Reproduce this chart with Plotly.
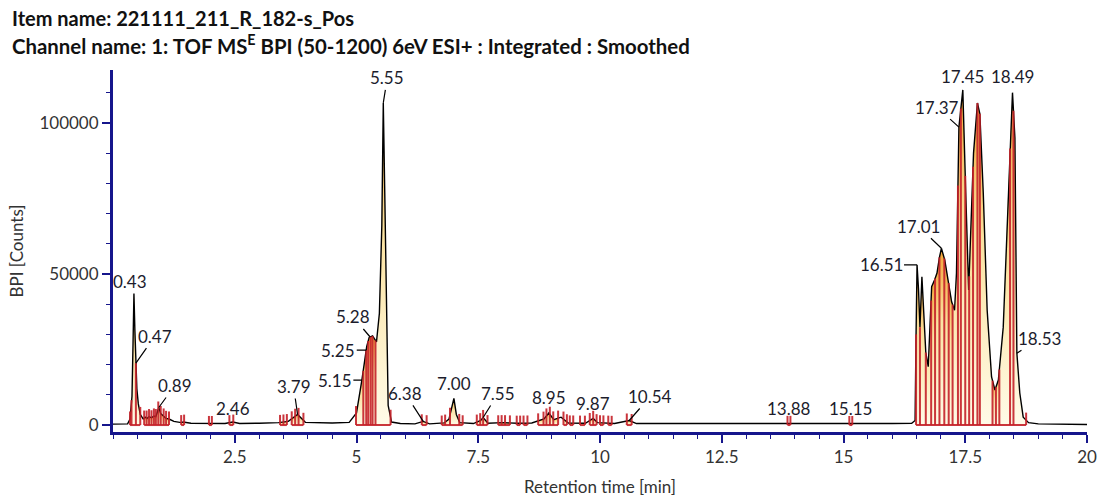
import numpy as np
import plotly.graph_objects as go

# ---------------- data ----------------
rt = [0.00, 0.30, 0.35, 0.37, 0.39, 0.41, 0.43, 0.45, 0.47, 0.49, 0.52, 0.56, 0.62, 0.66, 0.70,
      0.74, 0.79, 0.84, 0.88, 0.94, 0.98, 1.04, 1.09, 1.15, 1.25, 1.40, 1.44, 1.60, 2.00, 2.30,
      2.46, 2.60, 3.00, 3.40, 3.60, 3.79, 3.95, 4.50, 4.85, 5.00, 5.11, 5.16, 5.21, 5.26, 5.33,
      5.41, 5.47, 5.52, 5.55, 5.58, 5.62, 5.65, 5.72, 5.90, 6.20, 6.37, 6.50, 6.80, 6.90, 6.95,
      7.00, 7.05, 7.12, 7.40, 7.55, 7.60, 7.70, 8.00, 8.30, 8.60, 8.85, 8.95, 9.05, 9.20, 9.35,
      9.70, 9.86, 9.95, 10.30, 10.60, 10.75, 11.50, 12.50, 13.50, 13.88, 14.50, 15.15, 16.00,
      16.40, 16.47, 16.49, 16.51, 16.54, 16.57, 16.61, 16.64, 16.69, 16.74, 16.78, 16.81, 16.87,
      16.92, 16.97, 17.01, 17.08, 17.15, 17.22, 17.28, 17.32, 17.37, 17.45, 17.51, 17.57, 17.67,
      17.75, 17.80, 17.87, 17.95, 18.04, 18.11, 18.18, 18.28, 18.38, 18.47, 18.52, 18.56, 18.62,
      18.69, 18.80, 19.00, 20.00]
bpi = [300, 400, 2000, 7000, 9500, 26000, 43500, 31000, 20500, 12000, 7000, 3500, 2000, 2600, 2200,
       2800, 2400, 3000, 2800, 5800, 3800, 3000, 2200, 2000, 1200, 800, 1000, 600, 500, 500,
       1000, 500, 600, 800, 1200, 3500, 900, 700, 900, 4000, 14900, 20000, 26000, 29000, 29500,
       27500, 37000, 66000, 106600, 77000, 32000, 6500, 1000, 500, 400, 1200, 400, 700, 2000, 5000,
       8800, 3500, 800, 500, 1500, 2500, 600, 800, 600, 700, 2000, 4000, 1800, 2600, 700,
       600, 2200, 800, 500, 1500, 500, 500, 450, 450, 550, 450, 500, 500,
       600, 1500, 30000, 53000, 45000, 32400, 49100, 40000, 24000, 19300, 32000, 45800, 48000,
       50300, 55500, 58500, 54600, 48000, 40800, 38000, 50300, 98600, 110900, 76800, 44700, 90000,
       106600, 103000, 76800, 38000, 15900, 11600, 14900, 32400, 76800, 110000, 95000, 23800, 10600,
       2600, 800, 400, 200]

# integration boundaries (retention times) of each integrated group of peaks
integration_groups = [
    [0.35, 0.38, 0.47, 0.56],
    [0.64, 0.69, 0.74, 0.79, 0.84, 0.88, 0.93, 0.98, 1.04, 1.09, 1.15],
    [1.40, 1.46],
    [1.97, 2.03],
    [2.39, 2.47],
    [3.43, 3.50, 3.57],
    [3.67, 3.74, 3.81, 3.91],
    [4.99, 5.14, 5.20, 5.24, 5.29, 5.33, 5.39, 5.70],
    [6.34, 6.44],
    [6.75, 6.82, 6.92, 7.11, 7.18],
    [7.47, 7.54, 7.60, 7.69],
    [7.91, 7.98, 8.05, 8.15],
    [8.29, 8.36],
    [8.43, 8.51],
    [8.73, 8.84, 8.90, 8.97, 9.04, 9.14],
    [9.25, 9.32],
    [9.38, 9.45],
    [9.59, 9.69],
    [9.79, 9.86, 9.93],
    [10.00, 10.07],
    [10.17, 10.24],
    [10.55, 10.65],
    [13.85, 13.91],
    [15.12, 15.18],
    [16.49, 16.57, 16.69, 16.80, 16.88, 16.97, 17.07, 17.16, 17.24, 17.35, 17.41, 17.50, 17.58,
     17.66, 17.75, 17.80, 18.06, 18.13, 18.20, 18.42, 18.49, 18.75],
]

# peak labels: text and the retention time the label points at
label_text = ["0.43", "0.47", "0.89", "2.46", "3.79", "5.15", "5.25", "5.28", "5.55", "6.38",
              "7.00", "7.55", "8.95", "9.87", "10.54", "13.88", "15.15", "16.51", "17.01",
              "17.37", "17.45", "18.49", "18.53"]
label_rt = [0.43, 0.47, 0.94, 2.46, 3.79, 5.11, 5.20, 5.28, 5.55, 6.37,
            7.00, 7.60, 8.95, 9.86, 10.60, 13.88, 15.15, 16.51, 17.01,
            17.37, 17.45, 18.47, 18.56]

x_tick_vals = [2.5, 5, 7.5, 10, 12.5, 15, 17.5, 20]
x_tick_text = ["2.5", "5", "7.5", "10", "12.5", "15", "17.5", "20"]
y_tick_vals = [0, 50000, 100000]
y_tick_text = ["0", "50000", "100000"]

# ---------------- styling / placement ----------------
# (dx, dy, leader) pixel offset of the label centre from the point it refers to
label_offsets = [(-4, -12, False), (19, -27, True), (16, -22, True), (0, -14, False),
                 (-4, -28, True), (-27, 0, True), (-28, 0, True), (-17, -20, True),
                 (4, -25, True), (-18, -28, True), (0, -15, False), (15, -24, True),
                 (0, -15, False), (0, -15, False), (21, -24, True), (0, -15, False),
                 (0, -15, False), (-36, 0, True), (-23, -22, True), (-22, -20, True),
                 (0, -13, False), (0, -16, False), (23, -15, True)]

FONT = "Lato"
NAVY = "#16168c"
RED = "rgba(196,32,40,0.9)"
TXT = "#1c1c2c"

rt_a = np.array(rt, dtype=float)
bpi_a = np.array(bpi, dtype=float)


def trace_at(t):
    return float(np.interp(t, rt_a, bpi_a))


fig = go.Figure()

# filled integrated areas (one per integrated peak segment)
for grp in integration_groups:
    for a, b in zip(grp[:-1], grp[1:]):
        inner = [t for t in rt if a < t < b]
        xs = [a] + inner + [b]
        ys = [trace_at(t) for t in xs]
        top = max(ys)
        fig.add_trace(go.Scatter(
            x=xs, y=ys, mode="lines", line=dict(width=0), fill="tozeroy",
            fillgradient=dict(type="vertical", start=0, stop=top,
                              colorscale=[[0, "#fffbe8"], [0.6, "#fbe2a0"], [1, "#f1a334"]]),
            hoverinfo="skip", showlegend=False))

# chromatogram trace
fig.add_trace(go.Scatter(x=rt, y=bpi, mode="lines", line=dict(color="black", width=1.4),
                         showlegend=False, hoverinfo="skip"))

# integration drop lines and baselines (red)
rx, ry = [], []
for grp in integration_groups:
    for t in grp:
        v = trace_at(t)
        h = v if v > 8000 else v + 2500
        rx += [t, t, None]
        ry += [0, h, None]
    rx += [grp[0], grp[-1], None]
    ry += [0, 0, None]
fig.add_trace(go.Scatter(x=rx, y=ry, mode="lines", line=dict(color=RED, width=2),
                         showlegend=False, hoverinfo="skip", connectgaps=False))

# peak labels
for txt, t, (dx, dy, leader) in zip(label_text, label_rt, label_offsets):
    yv = trace_at(t)
    if leader:
        fig.add_annotation(x=t, y=yv, text=txt, showarrow=True, ax=dx, ay=dy,
                           arrowhead=0, arrowwidth=1.2, arrowcolor="black", standoff=0,
                           startstandoff=0, font=dict(family=FONT, size=17, color=TXT))
    else:
        fig.add_annotation(x=t, y=yv, text=txt, showarrow=False, yanchor="middle",
                           xshift=dx, yshift=-dy,
                           font=dict(family=FONT, size=17, color=TXT))

# header
plot_w = 1101 - 113 - 14
plot_h = 497 - 70 - 65
fig.add_annotation(xref="paper", yref="paper", x=(10 - 113) / plot_w, y=(432 - 18) / plot_h,
                   xanchor="left", yanchor="middle", showarrow=False,
                   text="<b>Item name: 221111_211_R_182-s_Pos</b>",
                   font=dict(family=FONT, size=20, color="#111111"))
fig.add_annotation(xref="paper", yref="paper", x=(10 - 113) / plot_w, y=(432 - 44) / plot_h,
                   xanchor="left", yanchor="middle", showarrow=False,
                   text="<b>Channel name: 1: TOF MS<sup>E</sup> BPI (50-1200) 6eV ESI+ : Integrated : Smoothed</b>",
                   font=dict(family=FONT, size=20.4, color="#111111"))

fig.update_layout(
    width=1101, height=497, autosize=False,
    margin=dict(l=113, r=14, t=70, b=65, autoexpand=False),
    paper_bgcolor="white", plot_bgcolor="white",
    font=dict(family=FONT, size=17, color="#333333"),
    xaxis=dict(range=[0, 20], tickvals=x_tick_vals, ticktext=x_tick_text, automargin=False,
               showgrid=False, zeroline=False, showline=True, linecolor=NAVY, linewidth=3,
               ticks="outside", ticklen=8, tickwidth=1.5, tickcolor=NAVY,
               minor=dict(dtick=0.5, ticks="outside", ticklen=4, tickwidth=1, tickcolor=NAVY),
               tickfont=dict(family=FONT, size=17, color="#333333"),
               title=dict(text="Retention time [min]", standoff=17,
                          font=dict(family=FONT, size=17, color="#333333"))),
    yaxis=dict(range=[-2300, 117500], tickvals=y_tick_vals, ticktext=y_tick_text, automargin=False,
               showgrid=False, zeroline=False, showline=True, linecolor=NAVY, linewidth=3,
               ticks="outside", ticklen=8, tickwidth=1.5, tickcolor=NAVY,
               minor=dict(dtick=10000, ticks="outside", ticklen=4, tickwidth=1, tickcolor=NAVY),
               tickfont=dict(family=FONT, size=17, color="#333333"),
               title=dict(text="BPI [Counts]", standoff=12,
                          font=dict(family=FONT, size=17, color="#333333"))),
)

fig.write_html("out.html", config={"displayModeBar": False},
               post_script="document.body.style.margin='0px';")
